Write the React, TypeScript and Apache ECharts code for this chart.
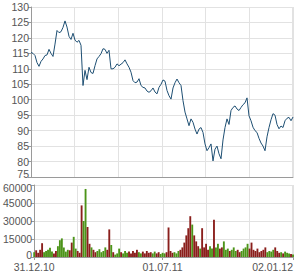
import React, { useEffect, useRef } from "react";
import * as echarts from "echarts";

// Price (sampled roughly every 2.8 calendar days, 31.12.10 .. 02.01.12)
const prices: number[] = [
  115.3, 115.0, 114.3, 112.0, 110.8, 112.4, 113.2, 114.3, 114.5, 116.3,
  115.0, 114.0, 118.0, 122.4, 121.7, 122.0, 123.4, 125.5, 123.5, 120.5,
  119.5, 121.5, 119.3, 118.6, 119.2, 117.6, 104.6, 109.5, 106.5, 110.5,
  108.8, 108.5, 111.0, 113.2, 114.0, 114.9, 116.5, 116.3, 115.0, 116.0,
  110.0, 110.0, 110.5, 111.6, 111.0, 111.5, 112.0, 112.9, 111.6, 110.5,
  108.9, 106.2, 105.5, 105.7, 106.8, 104.6, 104.0, 103.8, 102.8, 102.4,
  102.9, 103.8, 102.5, 101.9, 104.0, 105.0, 106.4, 106.0, 103.0, 101.3,
  100.2, 103.8, 105.5, 106.7, 105.5, 104.6, 99.7, 96.0, 93.8, 91.6,
  93.8, 92.7, 90.5, 88.9, 90.5, 91.0, 89.4, 85.7, 83.5, 84.5,
  85.7, 80.2, 84.0, 85.0, 82.5, 80.9, 87.0, 91.0, 93.8, 92.0,
  96.5, 97.5, 98.0, 97.0, 96.5, 97.5, 98.4, 99.0, 100.6, 94.8,
  93.2, 91.1, 90.0, 89.4, 87.5, 86.0, 85.0, 83.5, 88.0, 91.0,
  93.5, 95.5, 95.0, 92.0, 90.6, 91.5, 91.0, 93.2, 94.0, 94.3,
  93.2, 94.4,
];

const volumes: number[] = [
  4000, 5600, 3500, 6000, 11500, 4000, 5000, 6000, 7800, 4500,
  3000, 5000, 9000, 14000, 15500, 8000, 4500, 6000, 5600, 12000,
  16800, 7000, 5000, 3500, 43000, 30000, 56700, 25000, 11000, 8000,
  6000, 4000, 5000, 6500, 4000, 5000, 8000, 6000, 23000, 10000,
  4000, 2000, 3000, 7000, 4000, 3000, 5000, 3500, 4500, 3000,
  5000, 3500, 6000, 4000, 3000, 4500, 3000, 5000, 3500, 4000,
  3000, 4500, 3000, 4000, 2500, 3500, 3000, 4000, 24600, 5000,
  3500, 4000, 3000, 5000, 6000, 8000, 12000, 18000, 24000, 34000,
  27000, 18000, 13000, 9000, 7000, 24000, 8000, 11000, 6000, 9000,
  7000, 31000, 8000, 11000, 7000, 8000, 13000, 6000, 7000, 5000,
  6000, 8000, 5000, 6000, 4000, 5000, 7000, 8000, 11000, 7000,
  12000, 6000, 5000, 7000, 4000, 5000, 6000, 8000, 4000, 5000,
  4500, 6000, 8000, 5000, 3500, 4000, 3000, 4500, 3500, 3000,
  2500, 2000,
];

// bar colours for the tall bars (others follow price direction)
const redBars = [4, 19, 24, 27, 38, 68, 79, 85, 91];
const greenBars = [13, 14, 20, 25, 26, 80];

const priceTicks = { min: 75, max: 130, step: 5 };
const volumeTicks = { min: 0, max: 60000, step: 15000 };
const labelIndexes = [0, 65, 131];
const startDate = new Date(2010, 11, 31);
const totalDays = 367;

const pad = (n: number) => (n < 10 ? "0" + n : "" + n);
const dates: string[] = prices.map((_, i) => {
  const d = new Date(startDate.getTime());
  d.setDate(d.getDate() + Math.round((i * totalDays) / (prices.length - 1)));
  return pad(d.getDate()) + "." + pad(d.getMonth() + 1) + "." + pad(d.getFullYear() % 100);
});

const UP = "#4c9419";
const DOWN = "#8a1f1c";

export default function App() {
  const ref = useRef<HTMLDivElement>(null);
  useEffect(() => {
    if (!ref.current) return;
    const chart = echarts.init(ref.current, null, { renderer: "svg" });
    const font = "Liberation Sans, Arial, sans-serif";
    const gridColor = "#e2e2e2";
    const axisColor = "#9a9a9a";
    const labelColor = "#555";
    const fs = 10.5;
    const n = prices.length - 1;
    const gridInterval = 21.8;

    const volData = volumes.map((v, i) => {
      let down = i > 0 && prices[i] < prices[i - 1];
      if (redBars.includes(i)) down = true;
      if (greenBars.includes(i)) down = false;
      return { value: v, itemStyle: { color: down ? DOWN : UP } };
    });

    const richBase = { fontSize: fs, fontFamily: font, color: labelColor };
    const rich = {
      up: { ...richBase, padding: [0, 0, 7, 0] },
      dn: { ...richBase, padding: [6, 0, 0, 0] },
      up2: { ...richBase, padding: [0, 0, 4, 0] },
    };

    const yAxisCommon = {
      axisLine: { show: true, lineStyle: { color: axisColor } },
      axisTick: { show: true, length: 3, lineStyle: { color: axisColor } },
      splitLine: { show: true, lineStyle: { color: gridColor } },
    };

    chart.setOption({
      animation: false,
      backgroundColor: "#fff",
      grid: [
        { left: 31, right: 6, top: 7, height: 170, containLabel: false },
        { left: 31, right: 6, top: 185, height: 72, containLabel: false },
      ],
      xAxis: [
        {
          type: "category",
          gridIndex: 0,
          data: dates,
          boundaryGap: false,
          axisLine: { show: true, lineStyle: { color: axisColor } },
          axisTick: { show: false },
          axisLabel: { show: false },
          splitLine: { show: false },
        },
        {
          type: "category",
          gridIndex: 1,
          data: dates,
          boundaryGap: false,
          axisLine: { show: true, lineStyle: { color: axisColor } },
          axisTick: {
            show: true,
            length: 3,
            interval: (i: number) => labelIndexes.includes(i),
            lineStyle: { color: axisColor },
          },
          axisLabel: {
            show: true,
            interval: (i: number) => labelIndexes.includes(i),
            color: labelColor,
            fontSize: fs,
            fontFamily: font,
            margin: 4,
            alignMaxLabel: "right",
          },
          splitLine: { show: false },
        },
        {
          type: "value",
          gridIndex: 0,
          min: 0,
          max: n,
          interval: gridInterval,
          axisLine: { show: false },
          axisTick: { show: false },
          axisLabel: { show: false },
          splitLine: { show: true, lineStyle: { color: gridColor } },
        },
        {
          type: "value",
          gridIndex: 1,
          min: 0,
          max: n,
          interval: gridInterval,
          axisLine: { show: false },
          axisTick: { show: false },
          axisLabel: { show: false },
          splitLine: { show: true, lineStyle: { color: gridColor } },
        },
      ],
      yAxis: [
        {
          type: "value",
          gridIndex: 0,
          min: priceTicks.min,
          max: priceTicks.max,
          interval: priceTicks.step,
          ...yAxisCommon,
          axisLabel: {
            color: labelColor,
            fontSize: fs,
            fontFamily: font,
            margin: 2,
            formatter: (v: number) => (v === priceTicks.min ? "{up|" + v + "}" : String(v)),
            rich,
          },
        },
        {
          type: "value",
          gridIndex: 1,
          min: volumeTicks.min,
          max: volumeTicks.max,
          interval: volumeTicks.step,
          ...yAxisCommon,
          axisLabel: {
            color: labelColor,
            fontSize: fs,
            fontFamily: font,
            margin: 2,
            formatter: (v: number) =>
              v === volumeTicks.max
                ? "{dn|" + v + "}"
                : v === volumeTicks.min
                ? "{up2|" + v + "}"
                : String(v),
            rich,
          },
        },
      ],
      series: [
        {
          type: "line",
          xAxisIndex: 0,
          yAxisIndex: 0,
          data: prices,
          showSymbol: false,
          symbol: "none",
          lineStyle: { color: "#1e4f73", width: 1 },
          z: 5,
        },
        {
          type: "bar",
          xAxisIndex: 1,
          yAxisIndex: 1,
          data: volData,
          barCategoryGap: "5%",
          z: 5,
        },
      ],
    });
    return () => chart.dispose();
  }, []);
  return (
    <div
      ref={ref}
      style={{ position: "fixed", left: 0, top: 0, width: 299, height: 280, background: "#fff" }}
    />
  );
}
